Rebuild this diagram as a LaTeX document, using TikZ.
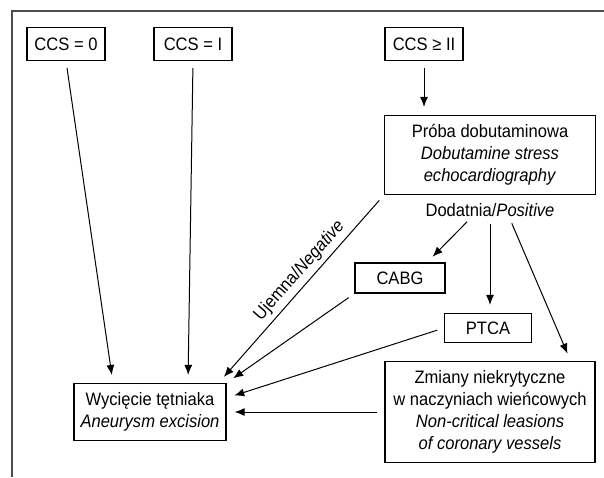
\documentclass[tikz,border=0pt]{standalone}
\usepackage{fontspec}
\setmainfont{Liberation Sans}[FakeStretch=0.92]
\usetikzlibrary{arrows.meta}

\begin{document}
\begin{tikzpicture}[x=1pt, y=-1pt, every node/.style={font=\fontsize{18}{22}\selectfont}]
	\tikzstyle{block} = [rectangle, draw, line width=1.2pt, align=center, inner sep=0pt]
	\tikzstyle{line} = [draw, line width=1pt, -{Latex[length=10pt,width=8pt]}, shorten <=7pt, shorten >=8pt]
	\useasboundingbox (0,0) rectangle (604,477);
	\draw [line width=2pt, black!70] (12,477) -- (12,11) -- (604,11);
	% row 1
	\node [block, minimum width=78pt, minimum height=33pt] (ccs0) at (66,44) {CCS = 0};
	\node [block, minimum width=78pt, minimum height=33pt] (ccs1) at (193,44) {CCS = I};
	\node [block, minimum width=78pt, minimum height=33pt] (ccs2) at (424,44) {CCS ≥ II};
	% right column
	\node [block, minimum width=211pt, minimum height=79pt] (probe) at (490,155)
		{Próba dobutaminowa\\ \textit{Dobutamine stress}\\ \textit{echocardiography}};
	\node [inner sep=0pt] (pos) at (490,210) {Dodatnia/\textit{Positive}};
	\node [block, minimum width=90pt, minimum height=30pt] (cabg) at (400,278) {CABG};
	\node [block, minimum width=87pt, minimum height=29pt] (ptca) at (488,328) {PTCA};
	\node [block, minimum width=210pt, minimum height=101pt] (zm) at (490,412)
		{Zmiany niekrytyczne\\ w naczyniach wieńcowych\\ \textit{Non-critical leasions}\\ \textit{of coronary vessels}};
	% target
	\node [block, minimum width=152pt, minimum height=57pt] (exc) at (150,412)
		{Wycięcie tętniaka\\ \textit{Aneurysm excision}};
	\tikzstyle{every path}=[line]
	\path (ccs0.south) -- ([xshift=-37pt]exc.north);
	\path (ccs1.south) -- ([xshift=38pt]exc.north);
	\path (ccs2.south) -- (ccs2.south |- probe.north);
	\path (probe.south west) -- node [sloped, above=1pt, pos=0.45] {Ujemna/\textit{Negative}} ([xshift=-8pt]exc.north east);
	\path ([xshift=-18pt]pos.south) -- ([xshift=27pt]cabg.north);
	\path (pos.south) -- (pos.south |- ptca.north);
	\path ([xshift=19pt]pos.south) -- ([xshift=-25pt]zm.north east);
	\path (cabg.south west) -- (exc.north east);
	\path (ptca.west) -- ([yshift=14pt]exc.east);
	\path (zm.west) -- (exc.east);
\end{tikzpicture}
\end{document}
